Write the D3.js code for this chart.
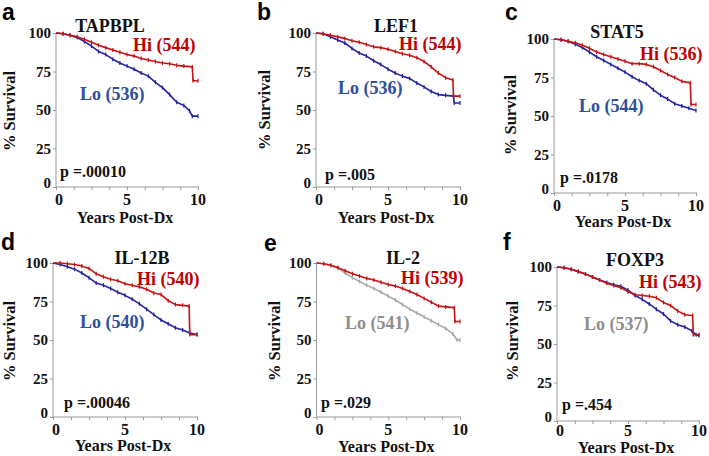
<!DOCTYPE html>
<html><head><meta charset="utf-8">
<script src="https://cdn.jsdelivr.net/npm/d3@7"></script>
<style>body{margin:0;background:#fff} svg{display:block}</style>
</head><body>
<svg id="chart" width="709" height="456"></svg>
<script>
// ---------- data ----------
const panelLetters = ["a", "b", "c", "d", "e", "f"];
const genes = ["TAPBPL", "LEF1", "STAT5", "IL-12B", "IL-2", "FOXP3"];
const hiLabels = ["Hi (544)", "Hi (544)", "Hi (536)", "Hi (540)", "Hi (539)", "Hi (543)"];
const loLabels = ["Lo (536)", "Lo (536)", "Lo (544)", "Lo (540)", "Lo (541)", "Lo (537)"];
const pValues = ["p =.00010", "p =.005", "p =.0178", "p =.00046", "p =.029", "p =.454"];
const yTicks = [0, 25, 50, 75, 100];
const xTickLabels = [0, 5, 10];
const xMinorTicks = [0, 1.25, 2.5, 3.75, 5, 6.25, 7.5, 8.75, 10];

// [years, % survival]
const hiA = [[0,100],[0.5,99.5],[1,98.5],[1.5,97.5],[2,96],[2.5,94],[3,92],[3.5,90.5],[4,89],[4.5,87.5],[5,86],[5.5,85],[6,83.5],[6.5,82.5],[7,81.5],[7.5,80.5],[8,80],[8.5,79],[9,78.5],[9.6,78],[9.65,69],[10,69]];
const loA = [[0,100],[0.5,99.5],[1,98.5],[1.5,97],[2,94.5],[2.5,91.5],[3,88],[3.5,86],[4,83],[4.5,80.5],[5,78.5],[5.5,76.5],[6,74],[6.5,72],[7,68],[7.5,64.5],[8,60],[8.5,55],[9,53],[9.4,49.5],[9.6,46],[10,46]];
const hiB = [[0,100],[0.5,99.5],[1,98.5],[1.5,97.5],[2,96.5],[2.5,95],[3,94],[3.5,92.5],[4,91],[4.5,90.5],[5,89.5],[5.5,88],[6,86.5],[6.5,85.5],[7,84],[7.5,81.5],[8,78],[8.5,74],[9,71],[9.5,69.5],[9.55,59],[10,59]];
const loB = [[0,100],[0.5,99.5],[1,97.5],[1.5,95.5],[2,93.5],[2.5,90],[3,87],[3.5,85],[4,82],[4.5,79.5],[5,76.5],[5.5,74],[6,72],[6.5,70.5],[7,67.5],[7.5,65],[8,62],[8.5,60],[9,59.5],[9.55,59],[9.6,54.5],[10,54.5]];
const hiC = [[0,100],[0.5,99.5],[1,98.5],[1.5,97.5],[2,96],[2.5,94],[3,91.5],[3.5,90],[4,88.5],[4.5,87],[5,85.5],[5.5,84],[6,84],[6.5,83.5],[7,82],[7.5,79.5],[8,77],[8.5,75],[9,72.5],[9.6,71.5],[9.65,57.5],[10,57.5]];
const loC = [[0,100],[0.5,99.5],[1,98.5],[1.5,96.5],[2,94.5],[2.5,91.5],[3,88.5],[3.5,86],[4,83.5],[4.5,81],[5,78.5],[5.5,75.5],[6,73],[6.5,71],[7,67],[7.5,63.5],[8,61],[8.5,58],[9,56.5],[9.5,55],[10,53.5]];
const hiD = [[0,100],[0.5,100],[1,99.5],[1.5,99],[2,98],[2.5,96.5],[3,93],[3.5,91],[4,89.5],[4.5,88.5],[5,86.5],[5.5,85.5],[6,84.5],[6.5,83],[7,80.5],[7.5,79.5],[8,75.5],[8.5,73],[9,72.5],[9.45,72],[9.5,53.5],[10,53.5]];
const loD = [[0,100],[0.5,99],[1,97.5],[1.5,96],[2,93.5],[2.5,90.5],[3,87],[3.5,85.5],[4,83.5],[4.5,81],[5,79],[5.5,76.5],[6,73.5],[6.5,70],[7,66.5],[7.5,63],[8,60.5],[8.5,58],[9,56.5],[9.5,54.5],[10,53.5]];
const hiE = [[0,100],[0.5,99.5],[1,98.5],[1.5,97],[2,95],[2.5,93],[3,91.5],[3.5,90],[4,89],[4.5,87.5],[5,86],[5.5,85],[6,83.5],[6.5,81.5],[7,79.5],[7.5,77],[8,74.5],[8.5,72],[9,71.5],[9.6,71],[9.65,62],[10,62]];
const loE = [[0,100],[0.5,99.5],[1,98.5],[1.5,96.5],[2,93.5],[2.5,90.5],[3,88],[3.5,85.5],[4,83.5],[4.5,81],[5,78.5],[5.5,76],[6,73],[6.5,70],[7,67.5],[7.5,65],[8,62.5],[8.5,60],[9,57.5],[9.5,54],[9.8,50],[10,50]];
const hiF = [[0,100],[0.5,99.5],[1,98.5],[1.5,97],[2,95.5],[2.5,93.5],[3,91.5],[3.5,89.5],[4,88],[4.5,86.5],[5,84],[5.5,82],[6,81.5],[6.5,81],[7,80],[7.5,77],[8,75],[8.5,71.5],[9,69],[9.55,68.5],[9.6,56],[10,56]];
const loF = [[0,100],[0.5,99.5],[1,98.5],[1.5,97],[2,95.5],[2.5,93.5],[3,91.5],[3.5,90],[4,88.5],[4.5,87.5],[5,85],[5.5,81.5],[6,79],[6.5,76],[7,72.5],[7.5,69.5],[8,65],[8.5,62.5],[9,61],[9.5,58.5],[9.8,56],[10,55.5]];

const hiSeries = [hiA, hiB, hiC, hiD, hiE, hiF];
const loSeries = [loA, loB, loC, loD, loE, loF];

// ---------- layout & style ----------
const layout = [
  {x0:56,  x1:198, y100:33,  y0:187, xl:205,   xt:222.5, letter:[2,19.5],   title:[110,32],   hi:[133,50.5], lo:[80,100],   p:[60,177],   ylab:[9,111]},
  {x0:316, x1:460, y100:33,  y0:187, xl:205,   xt:222.5, letter:[257,19.5], title:[396,32],   hi:[399,50],   lo:[338,93.5], p:[325,180],  ylab:[264,110]},
  {x0:554, x1:696, y100:39,  y0:193, xl:210.5, xt:227,   letter:[505,20],   title:[617,37.5], hi:[640,59.5], lo:[579,111.5],p:[560,182.5],ylab:[510,115]},
  {x0:53,  x1:197, y100:263, y0:417, xl:434.5, xt:451,   letter:[1,249.5],  title:[142,264],  hi:[137,284.5],lo:[80,328],   p:[64,408],   ylab:[9,341]},
  {x0:316.5,x1:460,y100:263, y0:417, xl:434.5, xt:451.5, letter:[264,251],  title:[403,264],  hi:[401,284],  lo:[345,328.5],p:[321,408],  ylab:[274,341]},
  {x0:557, x1:699, y100:267, y0:421, xl:436,   xt:452.5, letter:[503,249.5],title:[635,265.5],hi:[639,287.5],lo:[584,329.5],p:[562,409.5],ylab:[512,341]}
];
const RED_LINE = "#c41414", RED_TEXT = "#c00000";
const BLUE_LINE = "#2323a0", BLUE_TEXT = "#2f4f9c";
const GRAY_LINE = "#a9a9a9", GRAY_TEXT = "#8e8e8e";
const loLineColors = [BLUE_LINE, BLUE_LINE, BLUE_LINE, BLUE_LINE, GRAY_LINE, BLUE_LINE];
const loTextColors = [BLUE_TEXT, BLUE_TEXT, BLUE_TEXT, BLUE_TEXT, GRAY_TEXT, GRAY_TEXT];
const SERIF = "'Liberation Serif','Times New Roman',serif";
const SANS = "'Liberation Sans',Arial,sans-serif";

const svg = d3.select("#chart");

layout.forEach((L, i) => {
  const g = svg.append("g");
  const x = d3.scaleLinear().domain([0, 10]).range([L.x0, L.x1]);
  const y = d3.scaleLinear().domain([0, 100]).range([L.y0, L.y100]);

  // axes
  const yAxis = d3.axisLeft(y).tickValues(yTicks).tickSize(3).tickFormat("");
  const xAxis = d3.axisBottom(x).tickValues(xMinorTicks).tickSize(3).tickFormat("");
  const ya = g.append("g").attr("transform", `translate(${L.x0},0)`).call(yAxis);
  const xa = g.append("g").attr("transform", `translate(0,${L.y0})`).call(xAxis);
  [ya, xa].forEach(a => {
    a.select(".domain").attr("stroke", "#9a9a9a").attr("stroke-width", 1);
    a.selectAll(".tick line").attr("stroke", "#9a9a9a");
  });
  ya.select(".domain").attr("d", `M0,${L.y0}V${L.y100}`);
  xa.select(".domain").attr("d", `M${L.x0},0H${L.x1 + 1}`);

  // tick labels
  g.selectAll(".ylbl").data(yTicks).join("text")
    .attr("x", L.x0 - 5).attr("y", d => y(d) + (d === 0 ? -4 : 0)).attr("dy", "0.36em")
    .attr("text-anchor", "end").attr("font-family", SERIF).attr("font-weight", "bold")
    .attr("font-size", 15).attr("fill", "#111").text(d => d);
  g.selectAll(".xlbl").data(xTickLabels).join("text")
    .attr("x", d => x(d) + (d === 0 ? 3 : 0)).attr("y", L.xl)
    .attr("text-anchor", "middle").attr("font-family", SERIF).attr("font-weight", "bold")
    .attr("font-size", 16).attr("fill", "#111").text(d => d);

  // axis titles
  g.append("text").attr("x", (L.x0 + L.x1) / 2 - 2).attr("y", L.xt)
    .attr("text-anchor", "middle").attr("font-family", SERIF).attr("font-weight", "bold")
    .attr("font-size", 16).attr("fill", "#111").text("Years Post-Dx");
  g.append("text").attr("transform", `translate(${L.ylab[0]},${L.ylab[1]}) rotate(-90)`)
    .attr("dy", "0.36em").attr("text-anchor", "middle").attr("font-family", SERIF)
    .attr("font-weight", "bold").attr("font-size", 16.5).attr("fill", "#111").text("% Survival");

  // curves
  const line = d3.line().x(d => x(d[0])).y(d => y(d[1])).curve(d3.curveLinear);
  const drawKM = (data, color) => {
    g.append("path").datum(data).attr("d", line).attr("fill", "none")
      .attr("stroke", color).attr("stroke-width", 1.6).attr("stroke-linejoin", "round");
    g.selectAll(null).data(data.slice(1)).join("line")
      .attr("x1", d => x(d[0])).attr("x2", d => x(d[0]))
      .attr("y1", d => y(d[1]) - 2).attr("y2", d => y(d[1]) + 2)
      .attr("stroke", color).attr("stroke-width", 1.2);
  };
  drawKM(loSeries[i], loLineColors[i]);
  drawKM(hiSeries[i], RED_LINE);

  // labels
  g.append("text").attr("x", L.letter[0]).attr("y", L.letter[1])
    .attr("font-family", SANS).attr("font-weight", "bold").attr("font-size", 23)
    .attr("fill", "#000").text(panelLetters[i]);
  g.append("text").attr("x", L.title[0]).attr("y", L.title[1]).attr("text-anchor", "middle")
    .attr("font-family", SERIF).attr("font-weight", "bold").attr("font-size", 18)
    .attr("fill", "#111").text(genes[i]);
  g.append("text").attr("x", L.hi[0]).attr("y", L.hi[1])
    .attr("font-family", SERIF).attr("font-weight", "bold").attr("font-size", 18)
    .attr("fill", RED_TEXT).text(hiLabels[i]);
  g.append("text").attr("x", L.lo[0]).attr("y", L.lo[1])
    .attr("font-family", SERIF).attr("font-weight", "bold").attr("font-size", 18)
    .attr("fill", loTextColors[i]).text(loLabels[i]);
  g.append("text").attr("x", L.p[0]).attr("y", L.p[1])
    .attr("font-family", SERIF).attr("font-weight", "bold").attr("font-size", 16)
    .attr("fill", "#111").text(pValues[i]);
});
</script>
</body></html>
